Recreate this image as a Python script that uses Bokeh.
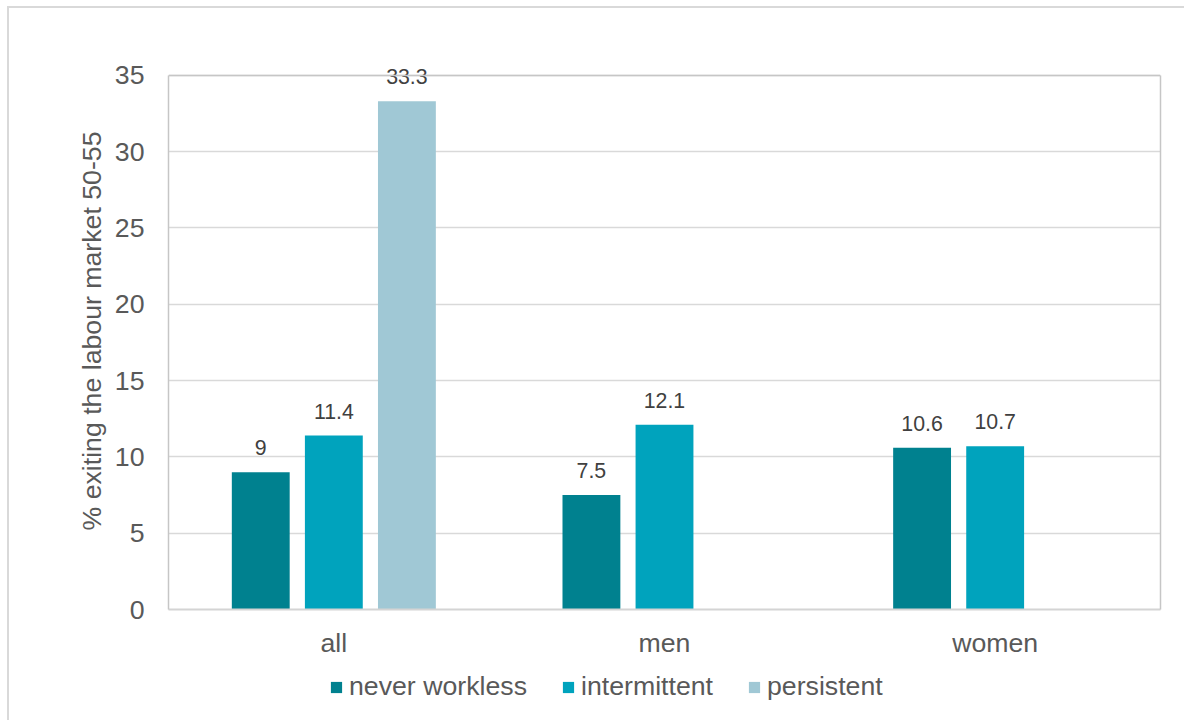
from bokeh.plotting import figure
from bokeh.layouts import column
from bokeh.models import (ColumnDataSource, FactorRange, LabelSet, Legend, LegendItem,
                          LinearAxis, Span)
from bokeh.core.properties import value
from bokeh.transform import dodge
from bokeh.embed import file_html
from bokeh.resources import INLINE
import math

# Share of people leaving the labour market between ages 50 and 55
groups = ["all", "men", "women"]
never_workless = [9.0, 7.5, 10.6]
intermittent = [11.4, 12.1, 10.7]
persistent = [33.3, math.nan, math.nan]
series_names = ["never workless", "intermittent", "persistent"]
y_ticks = [0, 5, 10, 15, 20, 25, 30, 35]

colors = ["#00818F", "#00A3BD", "#A0C8D5"]
offsets = [-0.221, 0.0, 0.221]
FONT = "Liberation Sans"
TEXT = "#595959"
EDGE = "#c6c6c6"
Y_MAX = y_ticks[-1]


def fmt(v):
    if v != v:
        return ""
    return str(int(v)) if float(v).is_integer() else f"{v:.1f}"


sources = [ColumnDataSource(dict(g=groups, v=vals, t=[fmt(v) for v in vals]))
           for vals in (never_workless, intermittent, persistent)]

# a little head-room above 35 so the top value label is not clipped
p = figure(x_range=FactorRange(*groups), y_range=(0, 36.5),
           width=1175, height=660, output_backend="svg", toolbar_location=None,
           min_border_left=159, min_border_right=24, min_border_top=44,
           min_border_bottom=59)

p.background_fill_color = "white"
p.border_fill_color = "white"
p.outline_line_color = None

for src, col, off in zip(sources, colors, offsets):
    p.vbar(x=dodge("g", off, range=p.x_range), top="v", width=0.175, source=src,
           fill_color=col, line_color=None)
    p.add_layout(LabelSet(x=dodge("g", off, range=p.x_range), y="v", text="t", source=src,
                          text_align="center", text_baseline="alphabetic", y_offset=17,
                          text_font=value(FONT), text_font_size="21.3px",
                          text_color="#404040"))

# axes
p.yaxis.ticker = y_ticks
p.yaxis.bounds = (0, Y_MAX)
p.yaxis.axis_label = "% exiting the labour market 50-55"
p.yaxis.axis_label_text_font = FONT
p.yaxis.axis_label_text_font_size = "26.7px"
p.yaxis.axis_label_text_font_style = "normal"
p.yaxis.axis_label_text_color = TEXT
p.yaxis.axis_label_standoff = 5
p.yaxis.major_label_text_font = FONT
p.yaxis.major_label_text_font_size = "26.7px"
p.yaxis.major_label_text_color = TEXT
p.yaxis.major_label_standoff = 18
p.yaxis.axis_line_color = EDGE
p.yaxis.axis_line_width = 1.5
p.yaxis.major_tick_line_color = None
p.yaxis.minor_tick_line_color = None

# right edge of the plot box
right = LinearAxis(ticker=[], bounds=(0, Y_MAX), axis_line_color=EDGE, axis_line_width=1.5,
                   major_tick_line_color=None, minor_tick_line_color=None,
                   major_label_text_font_size="0px")
p.add_layout(right, "right")

# top edge of the plot box
p.add_layout(Span(location=Y_MAX, dimension="width", line_color=EDGE, line_width=1.5))

p.xaxis.major_label_text_font = FONT
p.xaxis.major_label_text_font_size = "26.7px"
p.xaxis.major_label_text_color = TEXT
p.xaxis.major_label_standoff = 12
p.xaxis.axis_line_color = "#d4d4d4"
p.xaxis.axis_line_width = 2
p.xaxis.major_tick_line_color = None
p.xaxis.minor_tick_line_color = None

p.xgrid.grid_line_color = None
p.ygrid.grid_line_color = "#d9d9d9"
p.ygrid.grid_line_width = 1.5

# legend strip under the chart: same series as hidden renderers, swatches only
leg = figure(width=1175, height=52, x_range=FactorRange(*groups), y_range=(0, Y_MAX),
             output_backend="svg", toolbar_location=None,
             x_axis_location=None, y_axis_location=None,
             min_border_left=0, min_border_right=0, min_border_top=0, min_border_bottom=0)
leg.grid.visible = False
leg.outline_line_color = None
leg.background_fill_color = "white"
leg.border_fill_color = "white"
swatches = [leg.vbar(x=dodge("g", off, range=leg.x_range), top="v", width=0.175, source=src,
                     fill_color=col, line_color=None, visible=False)
            for src, col, off in zip(sources, colors, offsets)]
legend = Legend(items=[LegendItem(label=n, renderers=[r]) for n, r in zip(series_names, swatches)],
                orientation="horizontal", location=(161, 18),
                glyph_width=14, glyph_height=14, label_standoff=6, spacing=34,
                label_text_font=FONT, label_text_font_size="26.7px", label_text_color=TEXT,
                inactive_fill_alpha=0,
                border_line_color=None, background_fill_alpha=0, padding=0, margin=0)
leg.add_layout(legend, "center")

# thin frame around the whole chart
layout = column(p, leg, styles={"margin-left": "7px", "margin-top": "6px",
                                "border-left": "2px solid #d9d9d9",
                                "border-top": "2px solid #d9d9d9"})

open("out.html", "w").write(file_html(layout, INLINE))
